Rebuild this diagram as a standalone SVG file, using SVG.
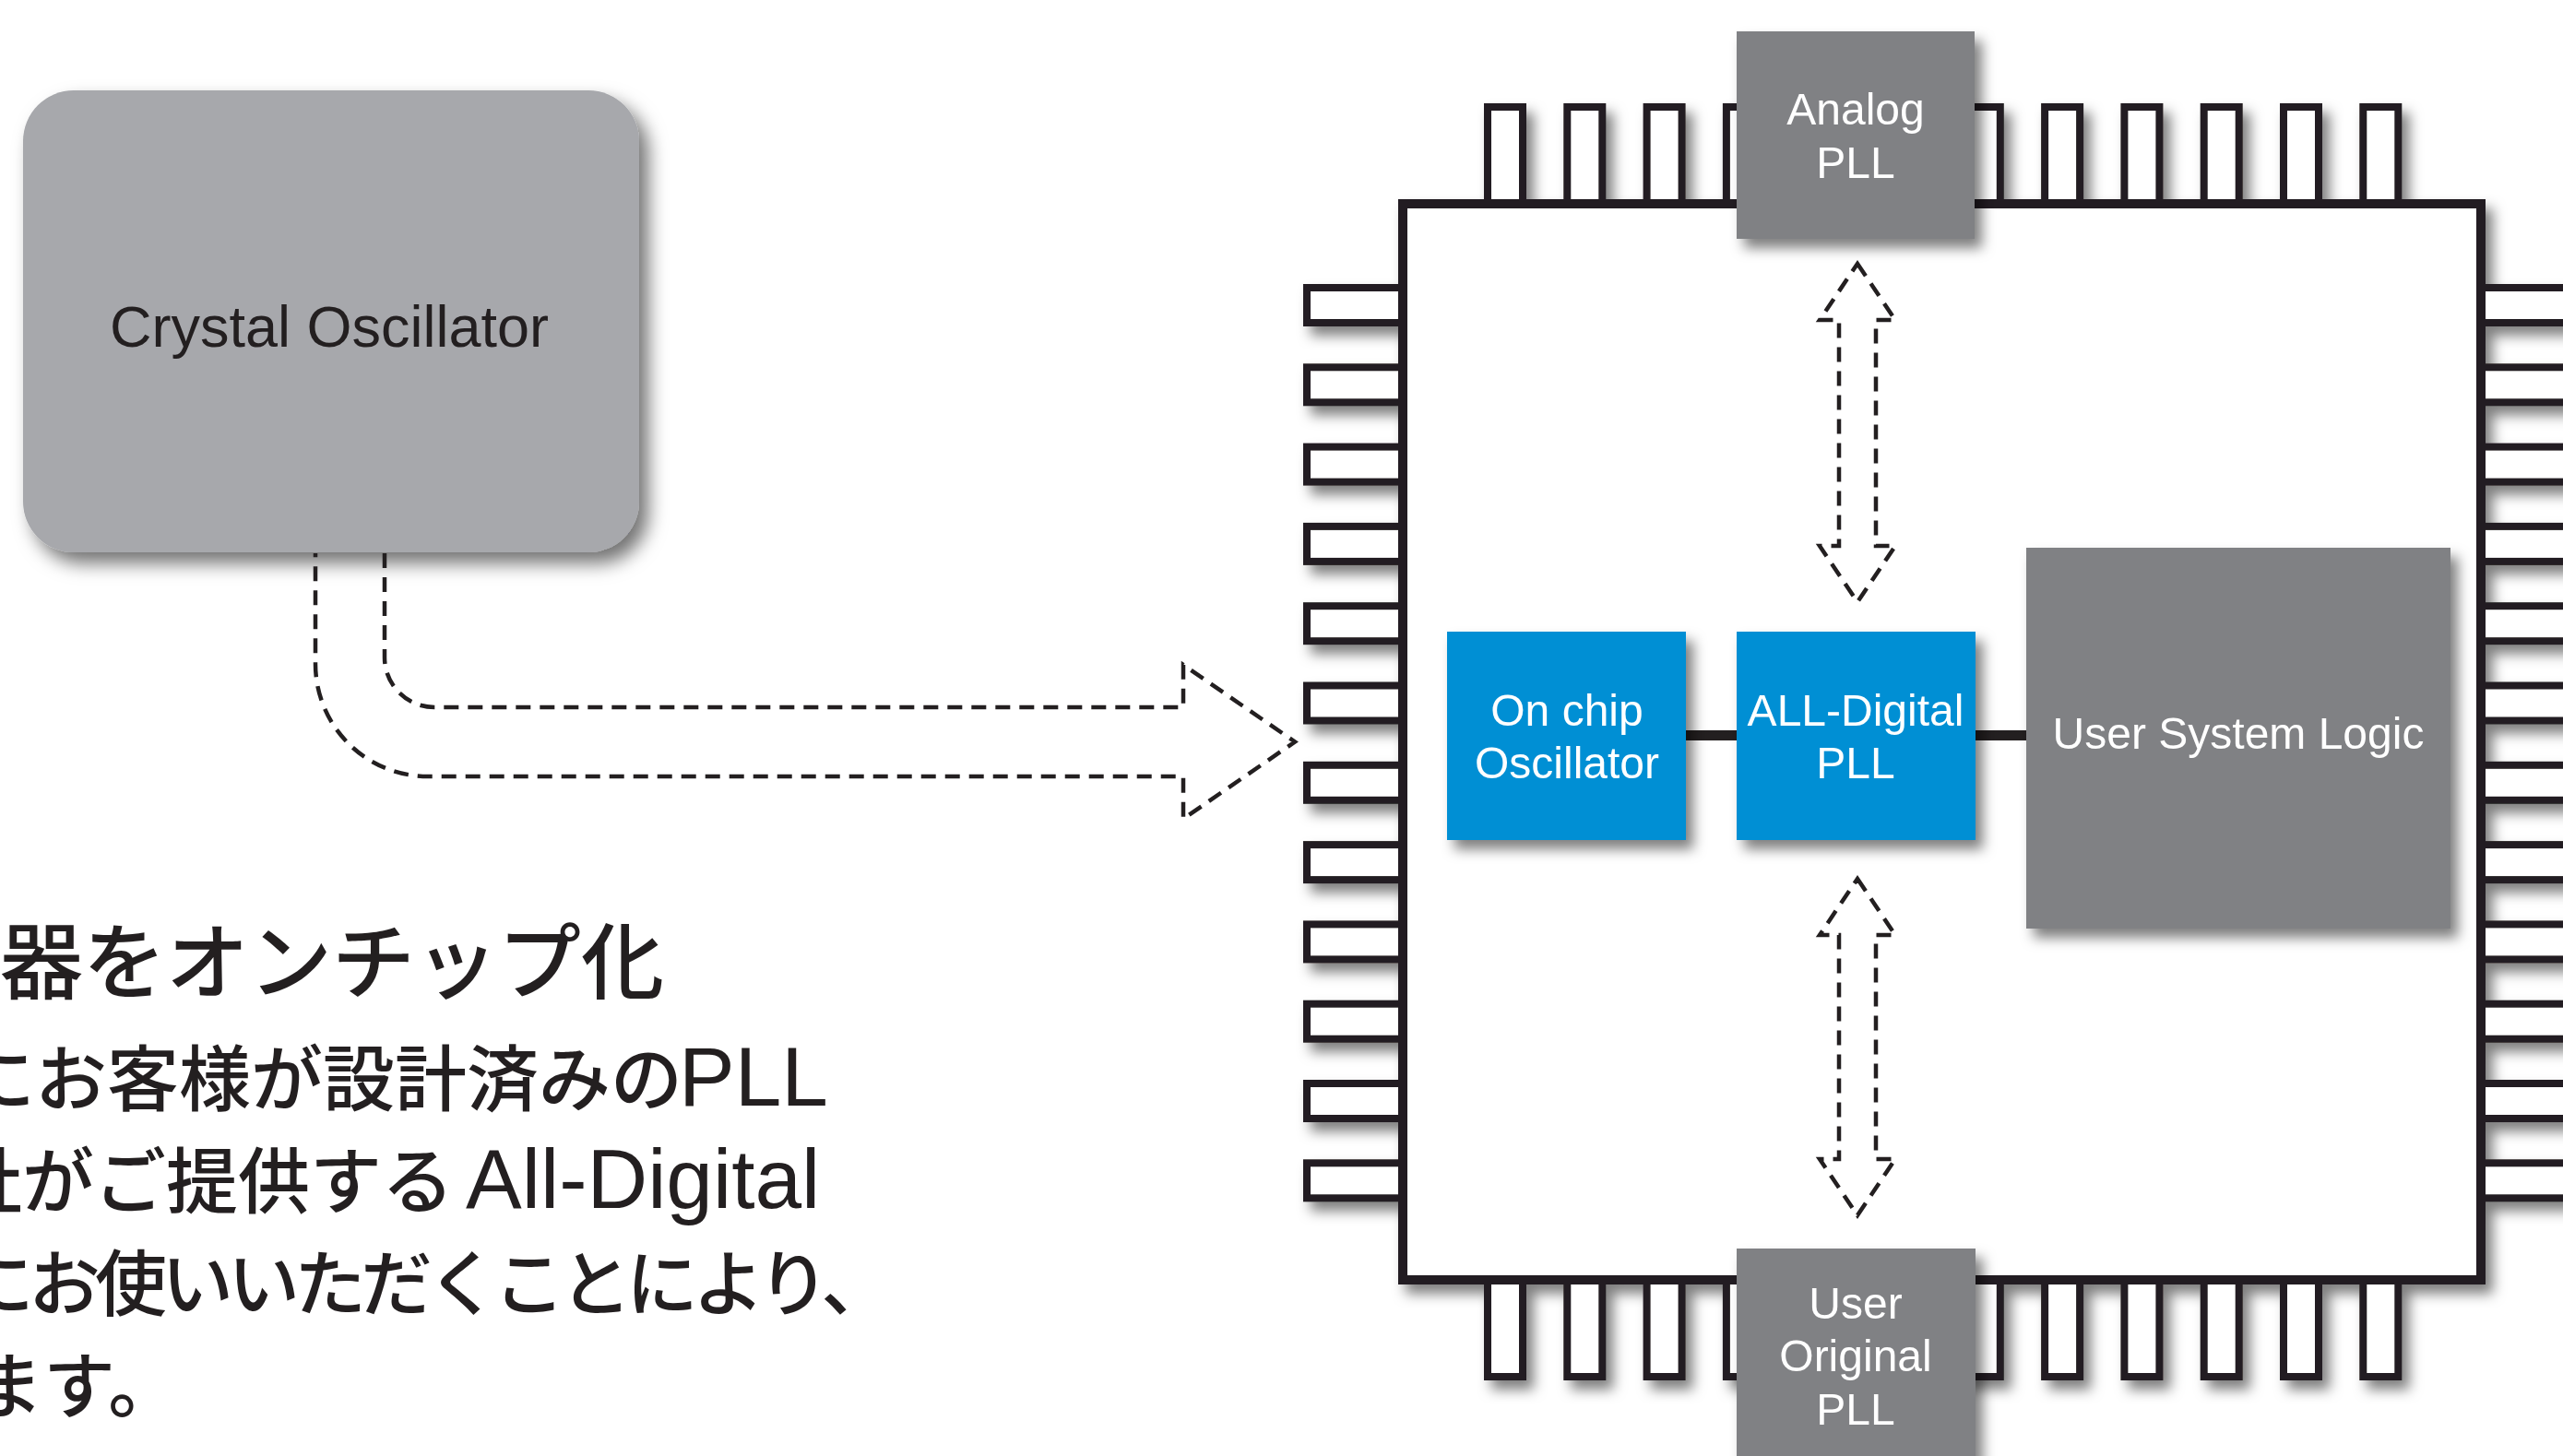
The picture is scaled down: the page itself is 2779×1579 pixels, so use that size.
<svg xmlns="http://www.w3.org/2000/svg" width="2779" height="1579" viewBox="0 0 2779 1579">
<style>
.lbl{font-family:"Liberation Sans",Arial,sans-serif;font-size:48px;fill:#ffffff;text-anchor:middle}
.jp{font-family:"Noto Sans CJK JP","Liberation Sans",sans-serif;font-size:78px;font-weight:500;fill:#231f20}
.jph{font-size:90px}
.lat{font-family:"Liberation Sans",Arial,sans-serif;font-size:91px;font-weight:400}
.pin{fill:#ffffff;stroke:#231f20;stroke-width:8}
.dash{fill:none;stroke:#231f20;stroke-width:4.5;stroke-dasharray:16 10}
.wire{stroke:#231f20;stroke-width:11}
.gray{fill:#808184}
.blue{fill:#028fd4}
</style>
<defs>
<filter id="sh" x="-20%" y="-20%" width="150%" height="150%">
<feDropShadow dx="8" dy="10" stdDeviation="7" flood-color="#000" flood-opacity="0.5"/>
</filter>
<filter id="shBig" x="-20%" y="-20%" width="150%" height="150%">
<feDropShadow dx="10" dy="12" stdDeviation="10" flood-color="#000" flood-opacity="0.55"/>
</filter>
</defs>
<rect width="2779" height="1579" fill="#ffffff"/>

<g id="crystal-oscillator">
<rect x="25" y="98" width="668" height="501" rx="55" ry="55" fill="#a7a8ac" filter="url(#shBig)"/>
<text x="357" y="376" font-family="Liberation Sans, Arial, sans-serif" font-size="63" fill="#231f20" text-anchor="middle">Crystal Oscillator</text>
</g>

<g id="chip" filter="url(#sh)">
<g id="pins-top">
<rect class="pin" x="1613" y="116" width="38" height="105"/>
<rect class="pin" x="1699.3" y="116" width="38" height="105"/>
<rect class="pin" x="1785.6" y="116" width="38" height="105"/>
<rect class="pin" x="1871.9" y="116" width="38" height="105"/>
<rect class="pin" x="1958.2" y="116" width="38" height="105"/>
<rect class="pin" x="2044.5" y="116" width="38" height="105"/>
<rect class="pin" x="2130.8" y="116" width="38" height="105"/>
<rect class="pin" x="2217.1" y="116" width="38" height="105"/>
<rect class="pin" x="2303.4" y="116" width="38" height="105"/>
<rect class="pin" x="2389.7" y="116" width="38" height="105"/>
<rect class="pin" x="2476" y="116" width="38" height="105"/>
<rect class="pin" x="2562.3" y="116" width="38" height="105"/>
</g>
<g id="pins-bottom">
<rect class="pin" x="1613" y="1388" width="38" height="105"/>
<rect class="pin" x="1699.3" y="1388" width="38" height="105"/>
<rect class="pin" x="1785.6" y="1388" width="38" height="105"/>
<rect class="pin" x="1871.9" y="1388" width="38" height="105"/>
<rect class="pin" x="1958.2" y="1388" width="38" height="105"/>
<rect class="pin" x="2044.5" y="1388" width="38" height="105"/>
<rect class="pin" x="2130.8" y="1388" width="38" height="105"/>
<rect class="pin" x="2217.1" y="1388" width="38" height="105"/>
<rect class="pin" x="2303.4" y="1388" width="38" height="105"/>
<rect class="pin" x="2389.7" y="1388" width="38" height="105"/>
<rect class="pin" x="2476" y="1388" width="38" height="105"/>
<rect class="pin" x="2562.3" y="1388" width="38" height="105"/>
</g>
<g id="pins-left">
<rect class="pin" x="1417" y="312" width="104" height="38"/>
<rect class="pin" x="1417" y="398.3" width="104" height="38"/>
<rect class="pin" x="1417" y="484.6" width="104" height="38"/>
<rect class="pin" x="1417" y="570.9" width="104" height="38"/>
<rect class="pin" x="1417" y="657.2" width="104" height="38"/>
<rect class="pin" x="1417" y="743.5" width="104" height="38"/>
<rect class="pin" x="1417" y="829.8" width="104" height="38"/>
<rect class="pin" x="1417" y="916.1" width="104" height="38"/>
<rect class="pin" x="1417" y="1002.4" width="104" height="38"/>
<rect class="pin" x="1417" y="1088.7" width="104" height="38"/>
<rect class="pin" x="1417" y="1175" width="104" height="38"/>
<rect class="pin" x="1417" y="1261.3" width="104" height="38"/>
</g>
<g id="pins-right">
<rect class="pin" x="2690" y="312" width="130" height="38"/>
<rect class="pin" x="2690" y="398.3" width="130" height="38"/>
<rect class="pin" x="2690" y="484.6" width="130" height="38"/>
<rect class="pin" x="2690" y="570.9" width="130" height="38"/>
<rect class="pin" x="2690" y="657.2" width="130" height="38"/>
<rect class="pin" x="2690" y="743.5" width="130" height="38"/>
<rect class="pin" x="2690" y="829.8" width="130" height="38"/>
<rect class="pin" x="2690" y="916.1" width="130" height="38"/>
<rect class="pin" x="2690" y="1002.4" width="130" height="38"/>
<rect class="pin" x="2690" y="1088.7" width="130" height="38"/>
<rect class="pin" x="2690" y="1175" width="130" height="38"/>
<rect class="pin" x="2690" y="1261.3" width="130" height="38"/>
</g>
<rect id="chip-body" x="1521" y="221" width="1169" height="1167" fill="#ffffff" stroke="#231f20" stroke-width="10"/>
</g>

<g id="connectors">
<path class="dash" d="M417,600 L417,713 A54,54 0 0 0 471,767 L1283,767 L1283,721 L1404,804.5 L1283,888 L1283,842 L464,842 A122,122 0 0 1 342,720 L342,600"/>
<path class="dash" d="M2014,286 L2055,347 L2034,347 L2034,592 L2055,592 L2014,653 L1973,592 L1994,592 L1994,347 L1973,347 Z"/>
<path class="dash" d="M2014,953 L2055,1014 L2034,1014 L2034,1257 L2055,1257 L2014,1318 L1973,1257 L1994,1257 L1994,1014 L1973,1014 Z"/>
<line class="wire" x1="1826" y1="797.5" x2="1886" y2="797.5"/>
<line class="wire" x1="2139" y1="797.5" x2="2200" y2="797.5"/>
</g>

<g id="analog-pll" filter="url(#sh)">
<rect class="gray" x="1883" y="34" width="258" height="225"/>
<text class="lbl" x="2012" y="135">Analog</text>
<text class="lbl" x="2012" y="193">PLL</text>
</g>

<g id="on-chip-oscillator" filter="url(#sh)">
<rect class="blue" x="1569" y="685" width="259" height="226"/>
<text class="lbl" x="1699" y="787">On chip</text>
<text class="lbl" x="1699" y="844">Oscillator</text>
</g>

<g id="all-digital-pll" filter="url(#sh)">
<rect class="blue" x="1883" y="685" width="259" height="226"/>
<text class="lbl" x="2012" y="787">ALL-Digital</text>
<text class="lbl" x="2012" y="844">PLL</text>
</g>

<g id="user-system-logic" filter="url(#sh)">
<rect class="gray" x="2197" y="594" width="460" height="413"/>
<text class="lbl" x="2427" y="812">User System Logic</text>
</g>

<g id="user-original-pll" filter="url(#sh)">
<rect class="gray" x="1883" y="1354" width="259" height="240"/>
<text class="lbl" x="2012" y="1430">User</text>
<text class="lbl" x="2012" y="1487">Original</text>
<text class="lbl" x="2012" y="1545">PLL</text>
</g>

<g id="description">
<text class="jp jph" x="0" y="1076">器をオンチップ化</text>
<text class="jp" x="-40" y="1199">にお客様が設計済みの<tspan class="lat" x="736">PLL</tspan></text>
<text class="jp" x="-54" y="1310">社がご提供する<tspan class="lat" x="505">All-Digital</tspan></text>
<text class="jp" x="-41" y="1421" letter-spacing="-6">にお使いいただくことにより、</text>
<text class="jp" x="-31" y="1532">ます。</text>
</g>
</svg>
